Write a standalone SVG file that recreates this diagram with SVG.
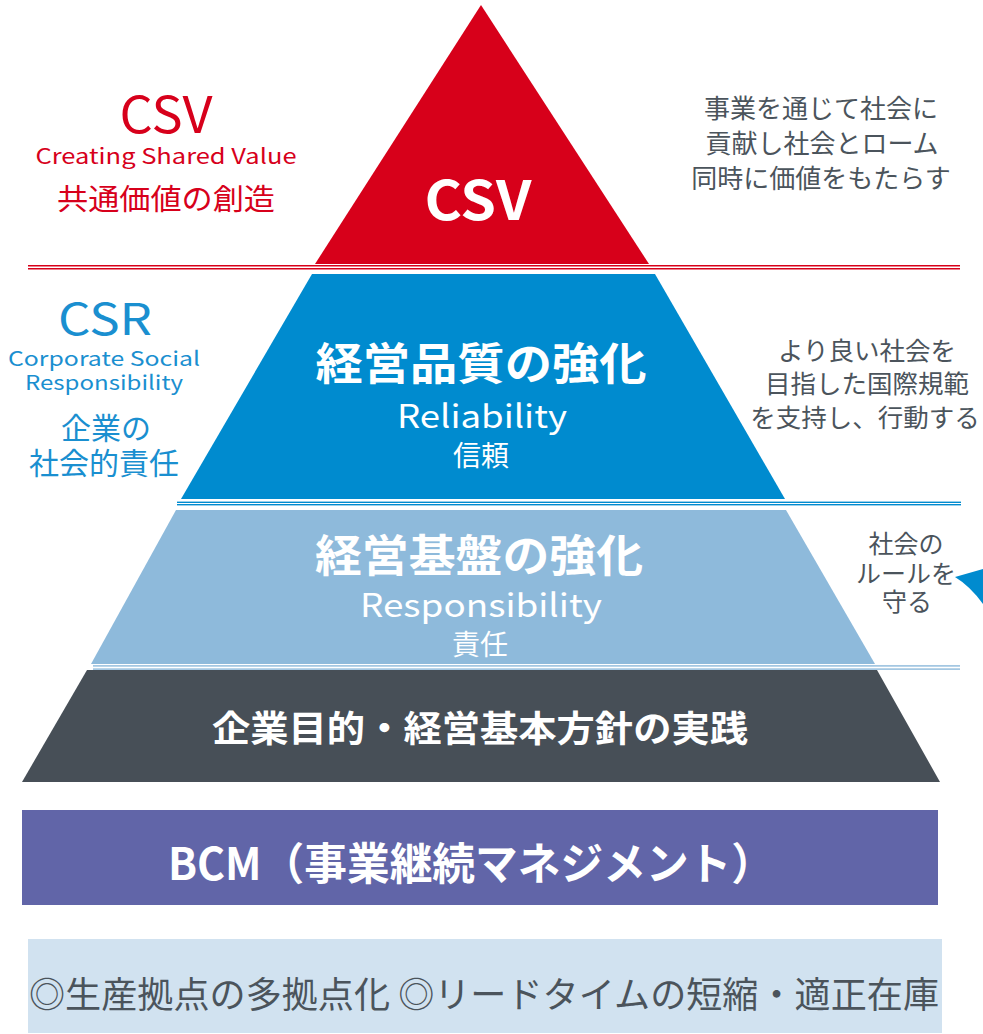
<svg xmlns="http://www.w3.org/2000/svg" width="983" height="1034" viewBox="0 0 983 1034">
<style>
text{font-family:"Noto Sans CJK JP","Noto Sans",sans-serif;text-anchor:middle}
.w{fill:#ffffff}
.b{font-weight:700}
.red{fill:#d7001b}
.blu{fill:#1a8fd0}
.gry{fill:#4b545c}
</style>
<rect width="983" height="1034" fill="#ffffff"/>
<g id="csv-tier">
<polygon points="481,5 315,264 649,264" fill="#d7001a"/>
<text class="w b" x="478" y="220" font-size="54" textLength="107" lengthAdjust="spacingAndGlyphs">CSV</text>
</g>
<g id="csv-sep">
<rect x="28" y="265" width="932" height="1.5" fill="#d7001a"/>
<rect x="28" y="268" width="932" height="1.5" fill="#d7001a"/>
</g>
<g id="quality-tier">
<polygon points="312,274 655,274 785,499 181,499" fill="#008bcf"/>
<text class="w b" x="481" y="380" font-size="44" textLength="331" lengthAdjust="spacingAndGlyphs">経営品質の強化</text>
<text class="w" x="482" y="428" font-size="32" textLength="170" lengthAdjust="spacingAndGlyphs">Reliability</text>
<text class="w" x="481" y="466" font-size="28">信頼</text>
</g>
<g id="quality-sep">
<rect x="177" y="501.6" width="784" height="1.4" fill="#008bcf"/>
<rect x="177" y="504" width="784" height="1.4" fill="#008bcf"/>
</g>
<g id="base-tier">
<polygon points="176,510 786,510 875,664 91,664" fill="#8ebadb"/>
<text class="w b" x="479" y="572" font-size="44" textLength="328" lengthAdjust="spacingAndGlyphs">経営基盤の強化</text>
<text class="w" x="481" y="617" font-size="32" textLength="242" lengthAdjust="spacingAndGlyphs">Responsibility</text>
<text class="w" x="480" y="655" font-size="28">責任</text>
</g>
<g id="base-sep">
<rect x="93" y="665.2" width="867" height="1.4" fill="#8ebadb"/>
<rect x="93" y="668.4" width="867" height="1.4" fill="#8ebadb"/>
</g>
<g id="practice-tier">
<polygon points="87,670 877,670 940,782 22,782" fill="#474f57"/>
<text class="w b" x="480" y="742" font-size="36" textLength="536" lengthAdjust="spacingAndGlyphs">企業目的・経営基本方針の実践</text>
</g>
<g id="bcm">
<rect x="22" y="810" width="916" height="95" fill="#6165a8"/>
<text class="w b" x="471" y="880" font-size="44" textLength="606" lengthAdjust="spacingAndGlyphs">BCM（事業継続マネジメント）</text>
</g>
<g id="bottom">
<rect x="28" y="939" width="914" height="94" fill="#d1e2f0"/>
<text class="gry" x="484" y="1008" font-size="36" textLength="910" lengthAdjust="spacingAndGlyphs">◎生産拠点の多拠点化  ◎リードタイムの短縮・適正在庫</text>
</g>
<g id="csv-label">
<text class="red" x="166" y="133" font-size="50" textLength="93" lengthAdjust="spacingAndGlyphs">CSV</text>
<text class="red" x="166" y="164" font-size="21" textLength="261" lengthAdjust="spacingAndGlyphs">Creating Shared Value</text>
<text class="red" x="166" y="210" font-size="29" textLength="218" lengthAdjust="spacingAndGlyphs">共通価値の創造</text>
</g>
<g id="csr-label">
<text class="blu" x="105" y="335" font-size="44" textLength="94" lengthAdjust="spacingAndGlyphs">CSR</text>
<text class="blu" x="104" y="366" font-size="20" textLength="192" lengthAdjust="spacingAndGlyphs">Corporate Social</text>
<text class="blu" x="104" y="390" font-size="20" textLength="158" lengthAdjust="spacingAndGlyphs">Responsibility</text>
<text class="blu" font-size="30"><tspan x="106" y="439">企業の</tspan><tspan x="104" y="474">社会的責任</tspan></text>
</g>
<g id="csv-desc">
<text class="gry" font-size="26"><tspan x="821" y="118">事業を通じて社会に</tspan><tspan x="822" y="153">貢献し社会とローム</tspan><tspan x="821" y="188">同時に価値をもたらす</tspan></text>
</g>
<g id="csr-desc">
<text class="gry" font-size="25.5"><tspan x="867" y="360">より良い社会を</tspan><tspan x="867" y="393">目指した国際規範</tspan><tspan x="865" y="427">を支持し、行動する</tspan></text>
</g>
<g id="rule-desc">
<text class="gry" font-size="25"><tspan x="906" y="553">社会の</tspan><tspan x="906" y="583">ルールを</tspan><tspan x="907" y="611">守る</tspan></text>
</g>
<g id="edge-mark">
<path d="M955,577 L983,569 L983,604 Q970,586 955,577 Z" fill="#008bcf"/>
</g>
</svg>
